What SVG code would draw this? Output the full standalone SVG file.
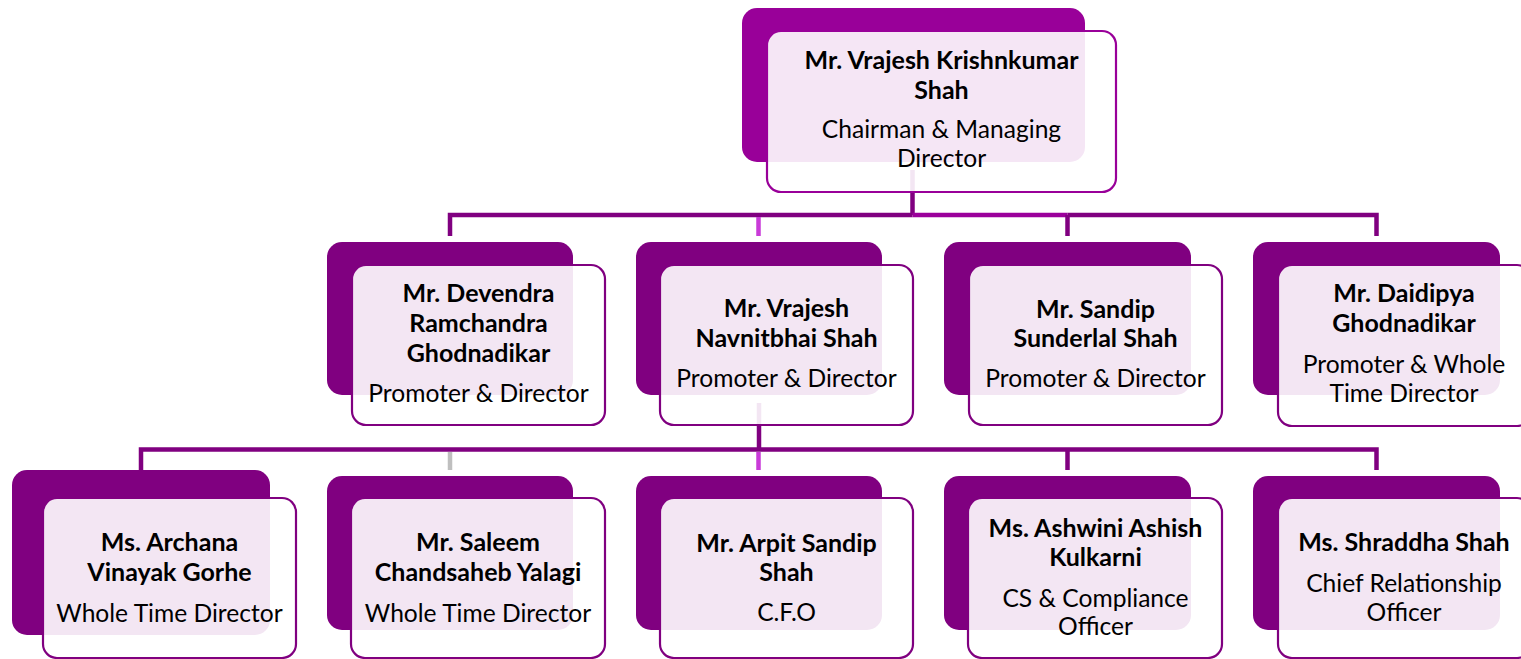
<svg xmlns="http://www.w3.org/2000/svg" width="1521" height="659" viewBox="0 0 1521 659">
<style>
.bk{fill:#800080}
.bkt{fill:#990099}
.fr{fill:#ffffff;fill-opacity:0.9;stroke:#800080;stroke-width:2.2}
.frt{fill:#ffffff;fill-opacity:0.9;stroke:#990099;stroke-width:2.2}
.c{fill:none;stroke:#800080;stroke-width:4.5;stroke-linejoin:miter;stroke-linecap:butt}
.n{font-family:Lato,"Liberation Sans",sans-serif;font-weight:bold;font-size:25px;fill:#000;text-anchor:middle}
.r{font-family:Lato,"Liberation Sans",sans-serif;font-size:24.6px;fill:#000;text-anchor:middle}
</style>
<rect width="1521" height="659" fill="#ffffff"/>
<g id="connectors">
<path class="c" d="M912.5,170 V215"/>
<path class="c" d="M450,236 V215 H912.5"/>
<path class="c" style="stroke:#9B009B" d="M912.5,215 H1067.5"/>
<path class="c" d="M1067.5,215 H1376.5 V236"/>
<path class="c" d="M1067.5,215 V236"/>
<path class="c" style="stroke:#C93AD8" d="M758.5,217 V236"/>
<path class="c" d="M759,403 V449.5"/>
<path class="c" d="M141,470 V449.5 H1376.5 V470"/>
<path class="c" d="M1067.5,449.5 V470"/>
<path class="c" style="stroke:#BFBFBF" d="M450,452 V470"/>
<path class="c" style="stroke:#C93AD8" d="M758.5,452 V470"/>
</g>
<g id="n-vrajesh-k">
<rect class="bkt" x="742" y="8" width="343" height="154" rx="15"/>
<rect class="frt" x="767" y="31" width="349" height="161" rx="14"/>
<text class="n" x="941.5" y="69">Mr. Vrajesh Krishnkumar</text>
<text class="n" x="941.5" y="99">Shah</text>
<text class="r" x="941.5" y="138">Chairman &amp; Managing</text>
<text class="r" x="941.5" y="167">Director</text>
</g>
<g id="n-devendra">
<rect class="bk" x="327" y="242" width="246" height="153" rx="15"/>
<rect class="fr" x="352" y="265" width="253" height="160" rx="14"/>
<text class="n" x="478.5" y="302">Mr. Devendra</text>
<text class="n" x="478.5" y="332">Ramchandra</text>
<text class="n" x="478.5" y="362">Ghodnadikar</text>
<text class="r" x="478.5" y="402">Promoter &amp; Director</text>
</g>
<g id="n-vrajesh-n">
<rect class="bk" x="636" y="242" width="246" height="153" rx="15"/>
<rect class="fr" x="660" y="265" width="253" height="160" rx="14"/>
<text class="n" x="786.5" y="317">Mr. Vrajesh</text>
<text class="n" x="786.5" y="347">Navnitbhai Shah</text>
<text class="r" x="786.5" y="387">Promoter &amp; Director</text>
</g>
<g id="n-sandip">
<rect class="bk" x="944" y="242" width="247" height="153" rx="15"/>
<rect class="fr" x="969" y="265" width="253" height="160" rx="14"/>
<text class="n" x="1095.5" y="318">Mr. Sandip</text>
<text class="n" x="1095.5" y="347">Sunderlal Shah</text>
<text class="r" x="1095.5" y="387">Promoter &amp; Director</text>
</g>
<g id="n-daidipya">
<rect class="bk" x="1253" y="242" width="247" height="153" rx="15"/>
<rect class="fr" x="1278" y="265" width="253" height="161" rx="14"/>
<text class="n" x="1404" y="302">Mr. Daidipya</text>
<text class="n" x="1404" y="332">Ghodnadikar</text>
<text class="r" x="1404" y="373">Promoter &amp; Whole</text>
<text class="r" x="1404" y="402">Time Director</text>
</g>
<g id="n-archana">
<rect class="bk" x="12" y="470" width="258" height="165" rx="15"/>
<rect class="fr" x="43" y="498" width="253" height="160" rx="14"/>
<text class="n" x="169.5" y="551">Ms. Archana</text>
<text class="n" x="169.5" y="581">Vinayak Gorhe</text>
<text class="r" x="169.5" y="622">Whole Time Director</text>
</g>
<g id="n-saleem">
<rect class="bk" x="327" y="476" width="246" height="154" rx="15"/>
<rect class="fr" x="351" y="498" width="254" height="160" rx="14"/>
<text class="n" x="478" y="551">Mr. Saleem</text>
<text class="n" x="478" y="581">Chandsaheb Yalagi</text>
<text class="r" x="478" y="622">Whole Time Director</text>
</g>
<g id="n-arpit">
<rect class="bk" x="636" y="476" width="246" height="154" rx="15"/>
<rect class="fr" x="660" y="498" width="253" height="160" rx="14"/>
<text class="n" x="786.5" y="552">Mr. Arpit Sandip</text>
<text class="n" x="786.5" y="581">Shah</text>
<text class="r" x="786.5" y="621">C.F.O</text>
</g>
<g id="n-ashwini">
<rect class="bk" x="944" y="476" width="247" height="154" rx="15"/>
<rect class="fr" x="968" y="498" width="254" height="160" rx="14"/>
<text class="n" x="1095.5" y="537">Ms. Ashwini Ashish</text>
<text class="n" x="1095.5" y="566">Kulkarni</text>
<text class="r" x="1095.5" y="607">CS &amp; Compliance</text>
<text class="r" x="1095.5" y="635">Officer</text>
</g>
<g id="n-shraddha">
<rect class="bk" x="1253" y="476" width="247" height="154" rx="15"/>
<rect class="fr" x="1278" y="498" width="253" height="160" rx="14"/>
<text class="n" x="1404" y="551">Ms. Shraddha Shah</text>
<text class="r" x="1404" y="592">Chief Relationship</text>
<text class="r" x="1404" y="621">Officer</text>
</g>
</svg>
